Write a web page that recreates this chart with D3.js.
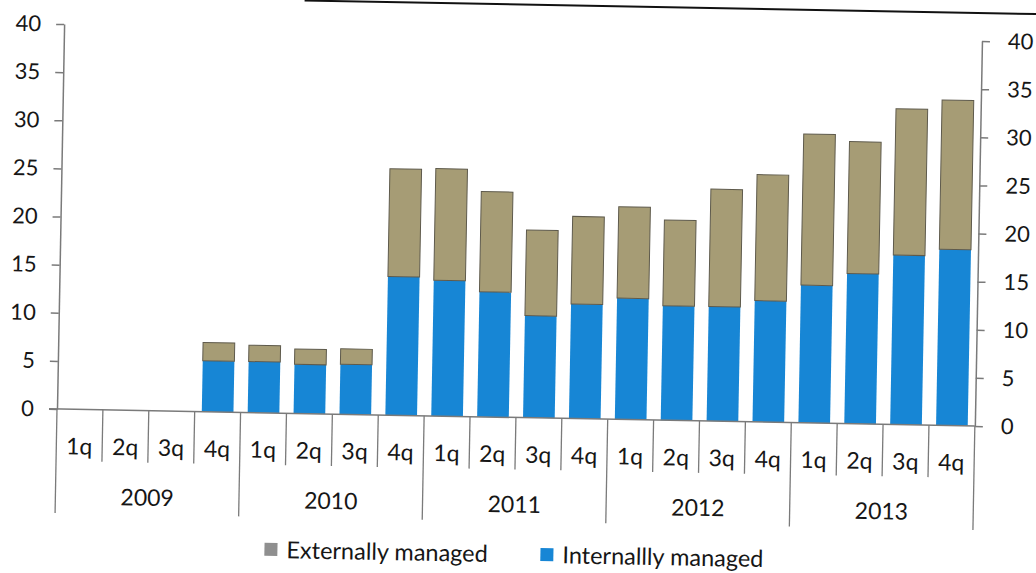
<!DOCTYPE html>
<html>
<head>
<meta charset="utf-8">
<script src="https://cdn.jsdelivr.net/npm/d3@7"></script>
<style>
  html, body { margin: 0; padding: 0; background: #ffffff; }
  svg { display: block; }
  text { font-family: Lato, "Open Sans", sans-serif; fill: #161616; }
</style>
</head>
<body>
<svg id="chart" width="1036" height="573"></svg>
<script>
// Quarterly assets, split by management type
const years = ["2009", "2010", "2011", "2012", "2013"];
const quarters = ["1q", "2q", "3q", "4q"];
const internallyManaged = [0, 0, 0, 5.3, 5.3, 5.1, 5.2, 14.4, 14.1, 13.0, 10.6, 11.9, 12.6, 11.9, 11.9, 12.6, 14.3, 15.6, 17.6, 18.3];
const externallyManaged = [0, 0, 0, 1.9, 1.7, 1.6, 1.6, 11.2, 11.6, 10.4, 8.9, 9.1, 9.5, 8.9, 12.2, 13.1, 15.7, 13.7, 15.2, 15.5];
const yTicks = [0, 5, 10, 15, 20, 25, 30, 35, 40];
const legendLabels = ["Externally managed", "Internallly managed"];

const colors = { internal: "#1786d5", external: "#a69c75", externalKey: "#8f8f8f" };

const rows = [];
years.forEach((yr, yi) => quarters.forEach((q, qi) => {
  const i = yi * 4 + qi;
  rows.push({ key: yr + "-" + q, year: yr, quarter: q, internal: internallyManaged[i], external: externallyManaged[i] });
}));

const W = 918, H = 385;
const svg = d3.select("#chart");
// plot frame, tilted slightly as on the printed page
const g = svg.append("g").attr("transform", "translate(57,409) rotate(1.06) translate(0," + (-H) + ")");

const x = d3.scaleBand().domain(rows.map(d => d.key)).range([0, W]).paddingInner(0.31).paddingOuter(0.155);
const y = d3.scaleLinear().domain([0, 40]).range([H, 0]);

// rule across the top of the page
g.append("line").attr("x1", 240).attr("x2", 1200).attr("y1", H - 413).attr("y2", H - 413)
  .attr("stroke", "#111").attr("stroke-width", 2);

// stacked bars
const stack = d3.stack().keys(["internal", "external"])(rows);
g.append("g").selectAll("g").data(stack).join("g")
  .attr("fill", s => colors[s.key])
  .attr("stroke", s => s.key === "external" ? "#5e5a4c" : "none")
  .attr("stroke-width", 1)
  .selectAll("rect").data(s => s.filter(d => d[1] - d[0] > 0)).join("rect")
  .attr("x", d => x(d.data.key))
  .attr("width", x.bandwidth())
  .attr("y", d => y(d[1]))
  .attr("height", d => y(d[0]) - y(d[1]));

// left and right value axes
const axisStyle = sel => {
  sel.select(".domain").attr("stroke", "#7a7a7a").attr("stroke-width", 1.5);
  sel.selectAll(".tick line").attr("stroke", "#7a7a7a").attr("stroke-width", 1.5);
  sel.selectAll(".tick text").style("font-size", "22px").style("font-family", "Lato, sans-serif").attr("fill", "#161616");
};
g.append("g").call(d3.axisLeft(y).tickValues(yTicks).tickSize(8).tickSizeOuter(0).tickPadding(15)).call(axisStyle);
g.append("g").attr("transform", "translate(" + W + ",0)")
  .call(d3.axisRight(y).tickValues(yTicks).tickSize(8).tickSizeOuter(0).tickPadding(18)).call(axisStyle);

// category axis: baseline, quarter dividers, year dividers
const base = g.append("g").attr("transform", "translate(0," + H + ")");
base.append("line").attr("x1", -8).attr("x2", W).attr("stroke", "#7a7a7a").attr("stroke-width", 1.5);
const step = x.step();
const bounds = d3.range(rows.length + 1).map(i => x(rows[0].key) - x.paddingOuter() * step + i * step);
base.selectAll("line.div").data(bounds).join("line").attr("class", "div")
  .attr("x1", d => d).attr("x2", d => d).attr("y1", 0)
  .attr("y2", (d, i) => i % 4 === 0 ? 104 : 52)
  .attr("stroke", "#7a7a7a").attr("stroke-width", 1.3);

base.selectAll("text.q").data(rows).join("text").attr("class", "q")
  .attr("x", d => x(d.key) + x.bandwidth() / 2).attr("y", 45)
  .attr("text-anchor", "middle").style("font-size", "23px").text(d => d.quarter);

base.selectAll("text.yr").data(years).join("text").attr("class", "yr")
  .attr("x", (d, i) => (bounds[i * 4] + bounds[i * 4 + 4]) / 2).attr("y", 95)
  .attr("text-anchor", "middle").style("font-size", "23px").text(d => d);

// legend
const legend = base.append("g").attr("transform", "translate(0,137)");
const keyColors = [colors.externalKey, colors.internal];
const keyX = [210, 486];
legendLabels.forEach((lab, i) => {
  legend.append("rect").attr("x", keyX[i]).attr("y", -7).attr("width", 13).attr("height", 13).attr("fill", keyColors[i]);
  legend.append("text").attr("x", keyX[i] + 22).attr("y", 8).style("font-size", "23.5px").text(lab);
});
</script>
</body>
</html>
